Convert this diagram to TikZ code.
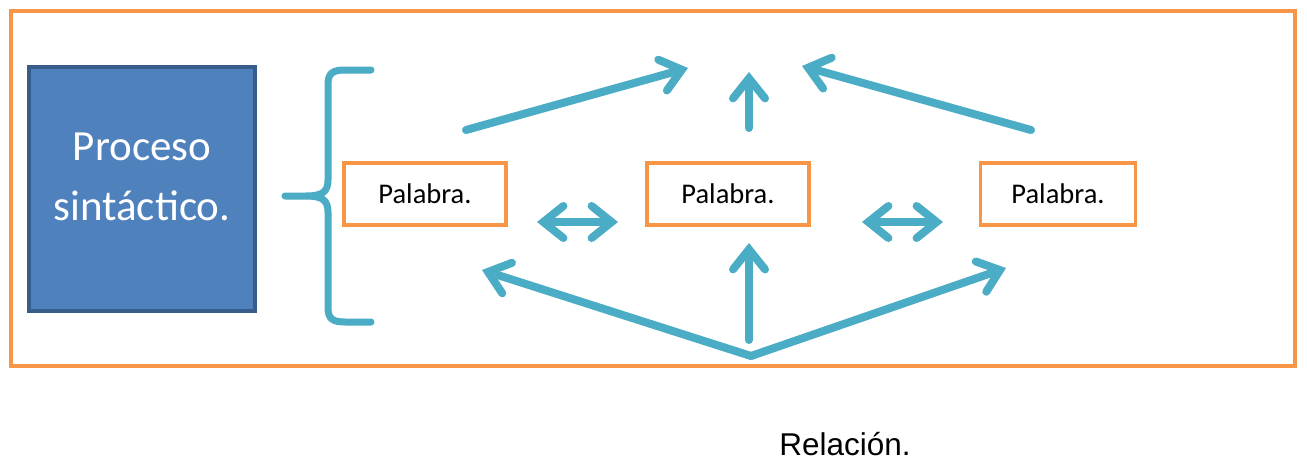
\documentclass[tikz,border=0pt]{standalone}
\usepackage{fontspec}
\setmainfont{Carlito}
\newfontfamily\arialf{Liberation Sans}
\usetikzlibrary{arrows.meta}
\definecolor{orng}{HTML}{F79646}
\definecolor{teal1}{HTML}{4BACC6}
\definecolor{bfill}{HTML}{4F81BD}
\definecolor{bline}{HTML}{385D8A}
\tikzset{
  barb/.tip={Straight Barb[length=20pt,width=32pt,line cap=round,line join=miter]},
  conn/.style={draw=teal1, line width=8pt, line cap=round, line join=round,
    -barb,
    preaction={draw=black, opacity=0.18, transform canvas={shift={(1.5pt,-3pt)}}}},
  dconn/.style={conn, barb-barb},
  wordbox/.style={draw=orng, line width=3.5pt, minimum width=162pt, minimum height=62pt, inner sep=0pt, font=\fontsize{28.5}{32}\selectfont},
  procbox/.style={draw=bline, fill=bfill, line width=3.5pt, minimum width=226pt, minimum height=244pt, inner sep=0pt},
  proctxt/.style={text=white, align=center, font=\fontsize{43}{60}\selectfont}
}
\begin{document}
\begin{tikzpicture}[x=1pt,y=-1pt]
\useasboundingbox (0,0) rectangle (1307,461);
\fill[white] (0,0) rectangle (1307,461);
\draw[orng, line width=4pt] (11,11) rectangle (1295,366);
\node[procbox] (proc) at (142,189) {};
\node[proctxt] (proctext) at (142,177) {Proceso\\sintáctico.};
% brace
\draw[teal1, line width=7pt, line cap=round, line join=round,
  preaction={draw=black, opacity=0.15, transform canvas={shift={(1.5pt,-3pt)}}}]
  (371,70) -- (345,70) .. controls (333,70) and (328,73) .. (328,84)
  -- (328,180) .. controls (328,192) and (322,196) .. (306,196) -- (285,196)
  (306,196) .. controls (322,196) and (328,200) .. (328,212)
  -- (328,308) .. controls (328,319) and (333,322) .. (345,322) -- (371,322);
\node[wordbox] (w1) at (425,194) {Palabra.};
\node[wordbox] (w2) at (728,194) {Palabra.};
\node[wordbox, minimum width=155pt] (w3) at (1058,194) {Palabra.};
% top arrows
\coordinate (t1s) at (466,130); \coordinate (t1e) at (688,68);
\coordinate (t2s) at (749,128); \coordinate (t2e) at (749,72);
\coordinate (t3s) at (1031,130); \coordinate (t3e) at (802,66);
\draw[conn] (t1s) -- (t1e);
\draw[conn] (t2s) -- (t2e);
\draw[conn] (t3s) -- (t3e);
% double arrows
\coordinate (d1a) at (537,222); \coordinate (d1b) at (618,222);
\coordinate (d2a) at (862,222); \coordinate (d2b) at (943,222);
\draw[dconn] (d1a) -- (d1b);
\draw[dconn] (d2a) -- (d2b);
% bottom arrows
\coordinate (apex) at (751,356);
\coordinate (b1e) at (482,270);
\coordinate (b2s) at (749,340); \coordinate (b2e) at (749,243);
\coordinate (b3e) at (1006,268);
\draw[conn] (apex) -- (b1e);
\draw[conn] (b2s) -- (b2e);
\draw[conn] (apex) -- (b3e);
\node[font=\arialf\fontsize{31.5}{36}\selectfont, anchor=base, inner sep=1pt] (rel) at (845,455) {Relación.};
\end{tikzpicture}
\end{document}
